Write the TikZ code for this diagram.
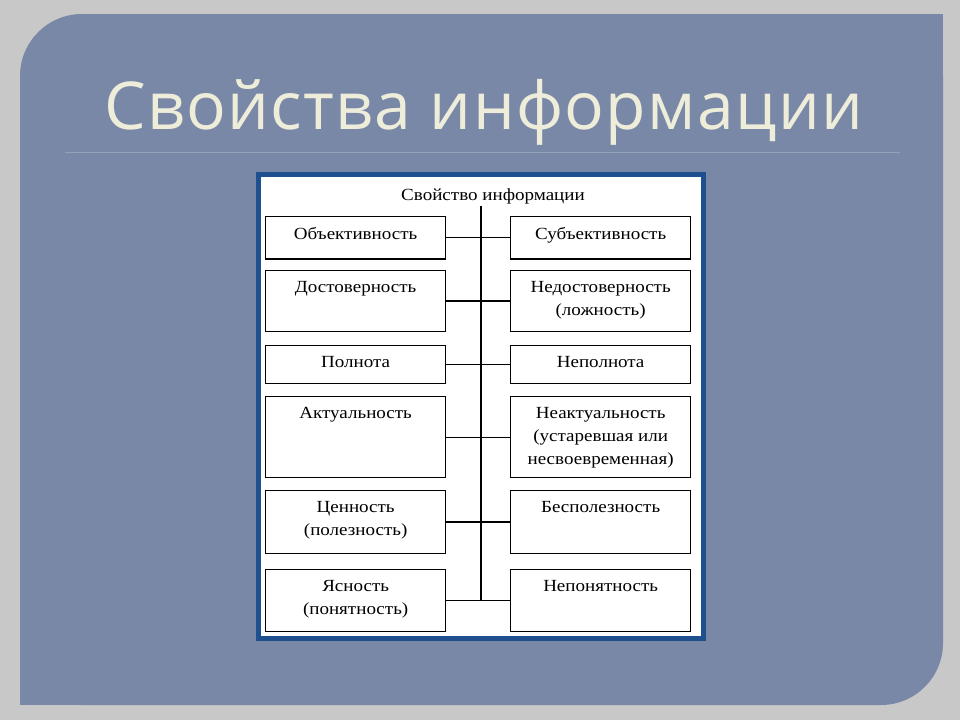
\documentclass[tikz,border=0pt]{standalone}
\usepackage{fontspec}
\setmainfont{Liberation Serif}[FakeStretch=1.12]
\newfontfamily\titlefont{Open Sans}[LetterSpace=2]
\usetikzlibrary{positioning}

\definecolor{slidegray}{HTML}{C8C8C8}
\definecolor{panelblue}{HTML}{7A88A8}
\definecolor{titlecream}{HTML}{EEEDDA}
\definecolor{frameblue}{HTML}{1E4F8E}

\tikzset{
	prop/.style={draw, line width=1.3pt, minimum width=180pt, anchor=north west, inner sep=0pt},
	proptext/.style={align=center, font=\fontsize{17}{23}\selectfont, inner sep=0pt},
	link/.style={line width=1.3pt},
}

\begin{document}
\begin{tikzpicture}[x=1pt,y=-1pt]
	\useasboundingbox (0,0) rectangle (960,720);
	\fill[slidegray] (0,0) rectangle (960,720);
	% slide panel, two round corners
	\fill[panelblue, rounded corners=62pt] (20,14) rectangle (943,705);
	\fill[panelblue] (20,300) rectangle (400,705);
	\fill[panelblue] (500,14) rectangle (943,300);
	\draw[line width=1pt, color=panelblue!80!white] (65,152) -- (900,152);
	\node[text=titlecream, font=\titlefont\fontsize{66}{72}\selectfont] (title) at (484,112) {Свойства информации};

	% the table picture
	\draw[fill=white, draw=frameblue, line width=5pt] (258.5,174.5) rectangle (703.5,638.5);
	\node[font=\fontsize{17}{20}\selectfont, inner sep=0pt] (head) at (493,196) {Свойство информации};

	\foreach \i/\t/\h/\l/\r in {
		1/215.7/42.5/{Объективность}/{Субъективность},
		2/270/60.5/{Достоверность}/{Недостоверность\\(ложность)},
		3/345/38/{Полнота}/{Неполнота},
		4/396/81/{Актуальность}/{Неактуальность\\(устаревшая или\\несвоевременная)},
		5/490/62.5/{Ценность\\(полезность)}/{Бесполезность},
		6/569/61.5/{Ясность\\(понятность)}/{Непонятность}}
	{
		\node[prop, minimum height=\h pt] (l\i) at (265,\t) {};
		\node[prop, minimum height=\h pt] (r\i) at (510,\t) {};
		\node[proptext, below=11pt of l\i.north] (lt\i) {\l};
		\node[proptext, below=11pt of r\i.north] (rt\i) {\r};
		\draw[link] (l\i.east) -- (r\i.west);
	}
	\coordinate (stem) at (481,206);
	\draw[link] (stem) -- (stem |- l6.east);
\end{tikzpicture}
\end{document}
